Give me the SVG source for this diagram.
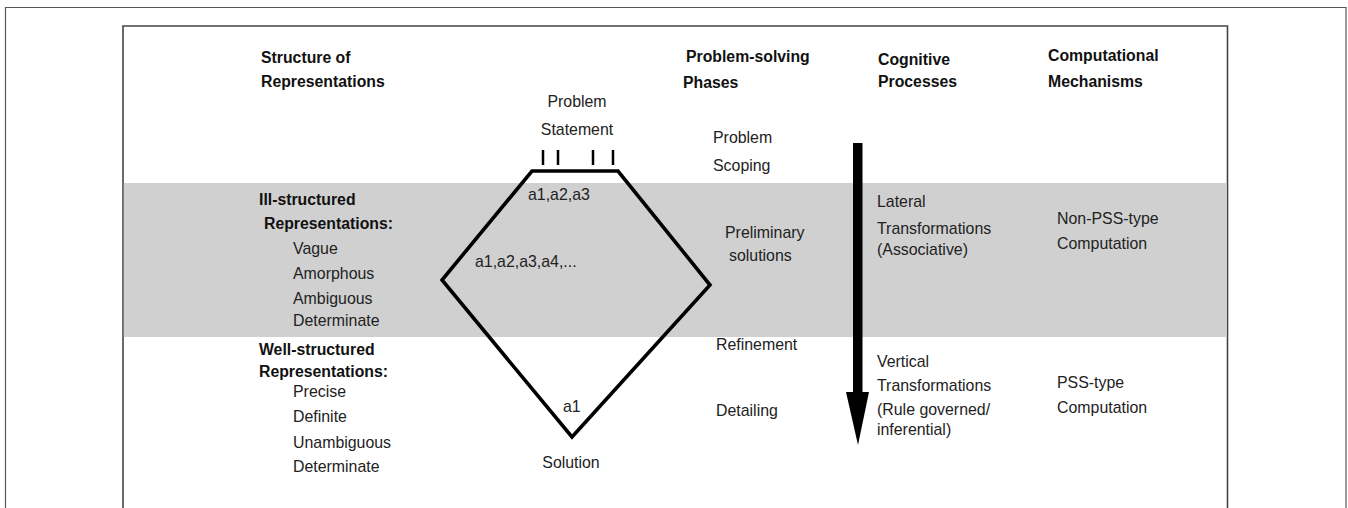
<svg xmlns="http://www.w3.org/2000/svg" width="1348" height="508" viewBox="0 0 1348 508">
<style>
text{font-family:"Liberation Sans",Arial,sans-serif;font-size:15.9px;fill:#222}
.b{font-weight:bold;fill:#111;font-size:15.8px}
.c{text-anchor:middle}
</style>
<rect x="0" y="0" width="1348" height="508" fill="#fff"/>
<g id="frame">
<path d="M5.5,520 V7.5 H1346 V520" fill="none" stroke="#555" stroke-width="1.2"/>
<path d="M123,520 V26 H1227.5 V520" fill="none" stroke="#444" stroke-width="1.6"/>
</g>
<rect id="band" x="123.8" y="183" width="1103" height="154" fill="#d0d0d0"/>
<g id="col-structure">
<text class="b" x="261" y="63">Structure of</text>
<text class="b" x="261" y="87">Representations</text>
</g>
<g id="ill-structured">
<text class="b" x="259" y="205">Ill-structured</text>
<text class="b" x="264" y="229">Representations:</text>
<text x="293" y="254">Vague</text>
<text x="293" y="279">Amorphous</text>
<text x="293" y="304">Ambiguous</text>
<text x="293" y="326">Determinate</text>
</g>
<g id="well-structured">
<text class="b" x="259" y="355">Well-structured</text>
<text class="b" x="259" y="377">Representations:</text>
<text x="293" y="397">Precise</text>
<text x="293" y="422">Definite</text>
<text x="293" y="448">Unambiguous</text>
<text x="293" y="472">Determinate</text>
</g>
<g id="diamond">
<text class="c" x="577" y="107">Problem</text>
<text class="c" x="577" y="135">Statement</text>
<g stroke="#000" stroke-width="2.5">
<line x1="543" y1="150" x2="543" y2="165"/>
<line x1="558" y1="150" x2="558" y2="165"/>
<line x1="593" y1="150" x2="593" y2="165"/>
<line x1="613" y1="150" x2="613" y2="165"/>
</g>
<path d="M532,171 L618,171 L710,285 L572,437 L442,280 Z" fill="none" stroke="#000" stroke-width="3.6" stroke-linejoin="miter"/>
<text x="528" y="200">a1,a2,a3</text>
<text x="475" y="267">a1,a2,a3,a4,...</text>
<text x="563" y="412">a1</text>
<text class="c" x="571" y="468">Solution</text>
</g>
<g id="col-phases">
<text class="b" x="686" y="62">Problem-solving</text>
<text class="b" x="683" y="88">Phases</text>
<text x="713" y="143">Problem</text>
<text x="713" y="171">Scoping</text>
<text x="725" y="238">Preliminary</text>
<text x="729" y="261">solutions</text>
<text x="716" y="350">Refinement</text>
<text x="716" y="416">Detailing</text>
</g>
<g id="connectors">
<rect x="853" y="143" width="9.5" height="251" fill="#000"/>
<polygon points="846,392 869,392 858,445" fill="#000"/>
</g>
<g id="col-cognitive">
<text class="b" x="878" y="65">Cognitive</text>
<text class="b" x="878" y="87">Processes</text>
<text x="877" y="207">Lateral</text>
<text x="877" y="234">Transformations</text>
<text x="877" y="255">(Associative)</text>
<text x="877" y="367">Vertical</text>
<text x="877" y="391">Transformations</text>
<text x="877" y="415">(Rule governed/</text>
<text x="877" y="435">inferential)</text>
</g>
<g id="col-computational">
<text class="b" x="1048" y="61">Computational</text>
<text class="b" x="1048" y="87">Mechanisms</text>
<text x="1057" y="224">Non-PSS-type</text>
<text x="1057" y="249">Computation</text>
<text x="1057" y="388">PSS-type</text>
<text x="1057" y="413">Computation</text>
</g>
</svg>
